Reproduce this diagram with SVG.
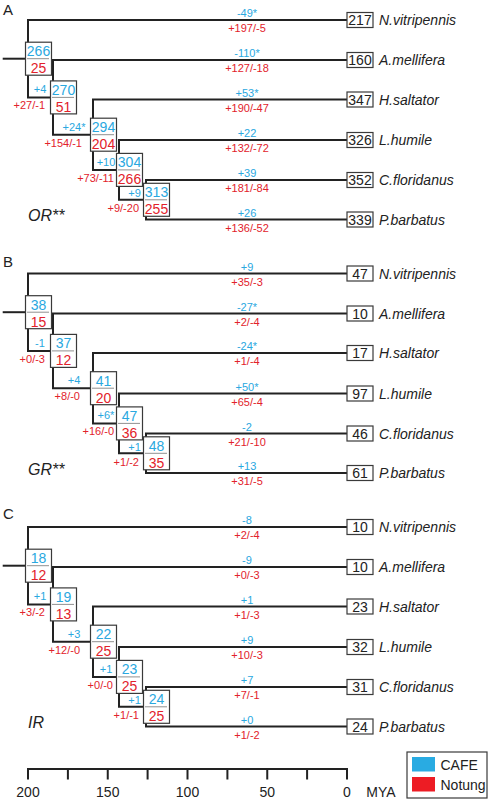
<svg xmlns="http://www.w3.org/2000/svg" width="495" height="800" viewBox="0 0 495 800">
<style>
.ln{fill:none;stroke:#222;stroke-width:2;stroke-linejoin:miter;stroke-linecap:butt}
.bx{fill:#fff;stroke:#3a3a3a;stroke-width:1.2}
.dt{stroke:#222;stroke-width:1;stroke-dasharray:1 1}
text{font-family:"Liberation Sans",Arial,sans-serif}
.n{font-size:14px;text-anchor:middle}
.b{fill:#2AA8DF}
.r{fill:#E2222B}
.bl{font-size:11px;text-anchor:middle}
.br{font-size:11px;text-anchor:end}
.sp{font-size:14px;font-style:italic;fill:#222}
.k{fill:#222}
.fam{font-size:16px;font-style:italic;fill:#222}
.pl{font-size:15px;fill:#222}
.ax{font-size:14px;fill:#222;text-anchor:middle}
</style>

<text class="pl" x="3" y="15">A</text>
<text class="pl" x="3" y="267">B</text>
<text class="pl" x="3" y="519">C</text>

<!-- Panel A -->
<g id="panelA">
<g id="A-connectors">
<path class="ln" d="M2.7,58.7H28"/>
<path class="ln" d="M347,20H28V97.4H53"/>
<path class="ln" d="M347,60H53V134.7H93"/>
<path class="ln" d="M347,99.5H93V169.9H119"/>
<path class="ln" d="M347,140H119V199.8H146"/>
<path class="ln" d="M347,180H146V219.5H347"/>
</g>
<g id="A-branchlabels">
<text class="bl b" x="247" y="17">-49*</text><text class="bl r" x="247" y="32">+197/-5</text>
<text class="bl b" x="247" y="57">-110*</text><text class="bl r" x="247" y="72">+127/-18</text>
<text class="bl b" x="247" y="96.5">+53*</text><text class="bl r" x="247" y="111.5">+190/-47</text>
<text class="bl b" x="247" y="137">+22</text><text class="bl r" x="247" y="152">+132/-72</text>
<text class="bl b" x="247" y="177">+39</text><text class="bl r" x="247" y="192">+181/-84</text>
<text class="bl b" x="247" y="216.5">+26</text><text class="bl r" x="247" y="231.5">+136/-52</text>
<text class="bl b" x="40" y="93.4">+4</text><text class="br r" x="45" y="109.4">+27/-1</text>
<text class="bl b" x="74" y="130.7">+24*</text><text class="br r" x="82" y="146.7">+154/-1</text>
<text class="bl b" x="106" y="165.9">+10</text><text class="br r" x="114" y="181.9">+73/-11</text>
<text class="bl b" x="134.5" y="197.2">+9</text><text class="br r" x="139" y="212.3">+9/-20</text>
</g>
<g id="A-root"><rect class="bx" x="25.5" y="42.2" width="26" height="33"/><line class="dt" x1="27.5" y1="58.7" x2="49.5" y2="58.7"/><text class="n b" x="38.5" y="56.2">266</text><text class="n r" x="38.5" y="73.2">25</text></g>
<g id="A-n2"><rect class="bx" x="50.5" y="80.9" width="26" height="33"/><line class="dt" x1="52.5" y1="97.4" x2="74.5" y2="97.4"/><text class="n b" x="63.5" y="94.9">270</text><text class="n r" x="63.5" y="111.9">51</text></g>
<g id="A-n3"><rect class="bx" x="90.5" y="118.2" width="26" height="33"/><line class="dt" x1="92.5" y1="134.7" x2="114.5" y2="134.7"/><text class="n b" x="103.5" y="132.2">294</text><text class="n r" x="103.5" y="149.2">204</text></g>
<g id="A-n4"><rect class="bx" x="116.5" y="153.4" width="26" height="33"/><line class="dt" x1="118.5" y1="169.9" x2="140.5" y2="169.9"/><text class="n b" x="129.5" y="167.4">304</text><text class="n r" x="129.5" y="184.2">266</text></g>
<g id="A-n5"><rect class="bx" x="143.5" y="183.3" width="26" height="33"/><line class="dt" x1="145.5" y1="199.8" x2="167.5" y2="199.8"/><text class="n b" x="156.5" y="197.3">313</text><text class="n r" x="156.5" y="214.3">255</text></g>
<g id="A-nvit"><rect class="bx" x="347" y="12.5" width="26" height="15"/><text class="n k" x="360" y="25">217</text><text class="sp" x="379" y="25">N.vitripennis</text></g>
<g id="A-amel"><rect class="bx" x="347" y="52.5" width="26" height="15"/><text class="n k" x="360" y="65">160</text><text class="sp" x="379" y="65">A.mellifera</text></g>
<g id="A-hsal"><rect class="bx" x="347" y="92" width="26" height="15"/><text class="n k" x="360" y="104.5">347</text><text class="sp" x="379" y="104.5">H.saltator</text></g>
<g id="A-lhum"><rect class="bx" x="347" y="132.5" width="26" height="15"/><text class="n k" x="360" y="145">326</text><text class="sp" x="379" y="145">L.humile</text></g>
<g id="A-cflo"><rect class="bx" x="347" y="172.5" width="26" height="15"/><text class="n k" x="360" y="185">352</text><text class="sp" x="379" y="185">C.floridanus</text></g>
<g id="A-pbar"><rect class="bx" x="347" y="212" width="26" height="15"/><text class="n k" x="360" y="224.5">339</text><text class="sp" x="379" y="224.5">P.barbatus</text></g>
<text class="fam" x="28" y="221">OR**</text>
</g>

<!-- Panel B -->
<g id="panelB" transform="translate(0,253.5)">
<g id="B-connectors">
<path class="ln" d="M2.7,58.7H28"/>
<path class="ln" d="M347,20H28V97.4H53"/>
<path class="ln" d="M347,60H53V134.7H93"/>
<path class="ln" d="M347,99.5H93V169.9H119"/>
<path class="ln" d="M347,140H119V199.8H146"/>
<path class="ln" d="M347,180H146V219.5H347"/>
</g>
<g id="B-branchlabels">
<text class="bl b" x="247" y="17">+9</text><text class="bl r" x="247" y="32">+35/-3</text>
<text class="bl b" x="247" y="57">-27*</text><text class="bl r" x="247" y="72">+2/-4</text>
<text class="bl b" x="247" y="96.5">-24*</text><text class="bl r" x="247" y="111.5">+1/-4</text>
<text class="bl b" x="247" y="137">+50*</text><text class="bl r" x="247" y="152">+65/-4</text>
<text class="bl b" x="247" y="177">-2</text><text class="bl r" x="247" y="192">+21/-10</text>
<text class="bl b" x="247" y="216.5">+13</text><text class="bl r" x="247" y="231.5">+31/-5</text>
<text class="bl b" x="40" y="93.4">-1</text><text class="br r" x="45" y="109.4">+0/-3</text>
<text class="bl b" x="74" y="130.7">+4</text><text class="br r" x="80" y="146.7">+8/-0</text>
<text class="bl b" x="106" y="165.9">+6*</text><text class="br r" x="114" y="181.9">+16/-0</text>
<text class="bl b" x="134.5" y="197.2">+1</text><text class="br r" x="139" y="212.3">+1/-2</text>
</g>
<g id="B-root"><rect class="bx" x="25.5" y="42.2" width="26" height="33"/><line class="dt" x1="27.5" y1="58.7" x2="49.5" y2="58.7"/><text class="n b" x="38.5" y="56.2">38</text><text class="n r" x="38.5" y="73.2">15</text></g>
<g id="B-n2"><rect class="bx" x="50.5" y="80.9" width="26" height="33"/><line class="dt" x1="52.5" y1="97.4" x2="74.5" y2="97.4"/><text class="n b" x="63.5" y="94.9">37</text><text class="n r" x="63.5" y="111.9">12</text></g>
<g id="B-n3"><rect class="bx" x="90.5" y="118.2" width="26" height="33"/><line class="dt" x1="92.5" y1="134.7" x2="114.5" y2="134.7"/><text class="n b" x="103.5" y="132.2">41</text><text class="n r" x="103.5" y="149.2">20</text></g>
<g id="B-n4"><rect class="bx" x="116.5" y="153.4" width="26" height="33"/><line class="dt" x1="118.5" y1="169.9" x2="140.5" y2="169.9"/><text class="n b" x="129.5" y="167.4">47</text><text class="n r" x="129.5" y="184.2">36</text></g>
<g id="B-n5"><rect class="bx" x="143.5" y="183.3" width="26" height="33"/><line class="dt" x1="145.5" y1="199.8" x2="167.5" y2="199.8"/><text class="n b" x="156.5" y="197.3">48</text><text class="n r" x="156.5" y="214.3">35</text></g>
<g id="B-nvit"><rect class="bx" x="347" y="12.5" width="26" height="15"/><text class="n k" x="360" y="25">47</text><text class="sp" x="379" y="25">N.vitripennis</text></g>
<g id="B-amel"><rect class="bx" x="347" y="52.5" width="26" height="15"/><text class="n k" x="360" y="65">10</text><text class="sp" x="379" y="65">A.mellifera</text></g>
<g id="B-hsal"><rect class="bx" x="347" y="92" width="26" height="15"/><text class="n k" x="360" y="104.5">17</text><text class="sp" x="379" y="104.5">H.saltator</text></g>
<g id="B-lhum"><rect class="bx" x="347" y="132.5" width="26" height="15"/><text class="n k" x="360" y="145">97</text><text class="sp" x="379" y="145">L.humile</text></g>
<g id="B-cflo"><rect class="bx" x="347" y="172.5" width="26" height="15"/><text class="n k" x="360" y="185">46</text><text class="sp" x="379" y="185">C.floridanus</text></g>
<g id="B-pbar"><rect class="bx" x="347" y="212" width="26" height="15"/><text class="n k" x="360" y="224.5">61</text><text class="sp" x="379" y="224.5">P.barbatus</text></g>
<text class="fam" x="28" y="221">GR**</text>
</g>

<!-- Panel C -->
<g id="panelC" transform="translate(0,507)">
<g id="C-connectors">
<path class="ln" d="M2.7,58.7H28"/>
<path class="ln" d="M347,20H28V97.4H53"/>
<path class="ln" d="M347,60H53V134.7H93"/>
<path class="ln" d="M347,99.5H93V169.9H119"/>
<path class="ln" d="M347,140H119V199.8H146"/>
<path class="ln" d="M347,180H146V219.5H347"/>
</g>
<g id="C-branchlabels">
<text class="bl b" x="247" y="17">-8</text><text class="bl r" x="247" y="32">+2/-4</text>
<text class="bl b" x="247" y="57">-9</text><text class="bl r" x="247" y="72">+0/-3</text>
<text class="bl b" x="247" y="96.5">+1</text><text class="bl r" x="247" y="111.5">+1/-3</text>
<text class="bl b" x="247" y="137">+9</text><text class="bl r" x="247" y="152">+10/-3</text>
<text class="bl b" x="247" y="177">+7</text><text class="bl r" x="247" y="192">+7/-1</text>
<text class="bl b" x="247" y="216.5">+0</text><text class="bl r" x="247" y="231.5">+1/-2</text>
<text class="bl b" x="40" y="93.4">+1</text><text class="br r" x="45" y="109.4">+3/-2</text>
<text class="bl b" x="74" y="130.7">+3</text><text class="br r" x="80" y="146.7">+12/-0</text>
<text class="bl b" x="106" y="165.9">+1</text><text class="br r" x="113" y="181.9">+0/-0</text>
<text class="bl b" x="134.5" y="197.2">+1</text><text class="br r" x="139" y="212.3">+1/-1</text>
</g>
<g id="C-root"><rect class="bx" x="25.5" y="42.2" width="26" height="33"/><line class="dt" x1="27.5" y1="58.7" x2="49.5" y2="58.7"/><text class="n b" x="38.5" y="56.2">18</text><text class="n r" x="38.5" y="73.2">12</text></g>
<g id="C-n2"><rect class="bx" x="50.5" y="80.9" width="26" height="33"/><line class="dt" x1="52.5" y1="97.4" x2="74.5" y2="97.4"/><text class="n b" x="63.5" y="94.9">19</text><text class="n r" x="63.5" y="111.9">13</text></g>
<g id="C-n3"><rect class="bx" x="90.5" y="118.2" width="26" height="33"/><line class="dt" x1="92.5" y1="134.7" x2="114.5" y2="134.7"/><text class="n b" x="103.5" y="132.2">22</text><text class="n r" x="103.5" y="149.2">25</text></g>
<g id="C-n4"><rect class="bx" x="116.5" y="153.4" width="26" height="33"/><line class="dt" x1="118.5" y1="169.9" x2="140.5" y2="169.9"/><text class="n b" x="129.5" y="167.4">23</text><text class="n r" x="129.5" y="184.2">25</text></g>
<g id="C-n5"><rect class="bx" x="143.5" y="183.3" width="26" height="33"/><line class="dt" x1="145.5" y1="199.8" x2="167.5" y2="199.8"/><text class="n b" x="156.5" y="197.3">24</text><text class="n r" x="156.5" y="214.3">25</text></g>
<g id="C-nvit"><rect class="bx" x="347" y="12.5" width="26" height="15"/><text class="n k" x="360" y="25">10</text><text class="sp" x="379" y="25">N.vitripennis</text></g>
<g id="C-amel"><rect class="bx" x="347" y="52.5" width="26" height="15"/><text class="n k" x="360" y="65">10</text><text class="sp" x="379" y="65">A.mellifera</text></g>
<g id="C-hsal"><rect class="bx" x="347" y="92" width="26" height="15"/><text class="n k" x="360" y="104.5">23</text><text class="sp" x="379" y="104.5">H.saltator</text></g>
<g id="C-lhum"><rect class="bx" x="347" y="132.5" width="26" height="15"/><text class="n k" x="360" y="145">32</text><text class="sp" x="379" y="145">L.humile</text></g>
<g id="C-cflo"><rect class="bx" x="347" y="172.5" width="26" height="15"/><text class="n k" x="360" y="185">31</text><text class="sp" x="379" y="185">C.floridanus</text></g>
<g id="C-pbar"><rect class="bx" x="347" y="212" width="26" height="15"/><text class="n k" x="360" y="224.5">24</text><text class="sp" x="379" y="224.5">P.barbatus</text></g>
<text class="fam" x="28" y="221">IR</text>
</g>

<!-- Axis -->
<g id="axis">
<path class="ln" d="M27,769H348M28,769V779.5M67.9,769V779.5M107.75,769V779.5M147.6,769V779.5M187.5,769V779.5M227.4,769V779.5M267.25,769V779.5M307.1,769V779.5M347,769V779.5"/>
<text class="ax" x="28" y="797">200</text>
<text class="ax" x="107.75" y="797">150</text>
<text class="ax" x="187.5" y="797">100</text>
<text class="ax" x="267.25" y="797">50</text>
<text class="ax" x="347" y="797">0</text>
<text class="ax" x="381" y="797">MYA</text>
</g>

<!-- Legend -->
<g id="legend">
<rect x="407" y="752" width="80" height="46" fill="#fff" stroke="#3a3a3a" stroke-width="1.2"/>
<rect x="412" y="757" width="23" height="14.5" fill="#29ABE2"/>
<rect x="412" y="777" width="23" height="14.5" fill="#ED1C24"/>
<text x="440.5" y="769.5" font-size="14" fill="#222">CAFE</text>
<text x="440.5" y="789.5" font-size="14" fill="#222">Notung</text>
</g>
</svg>
